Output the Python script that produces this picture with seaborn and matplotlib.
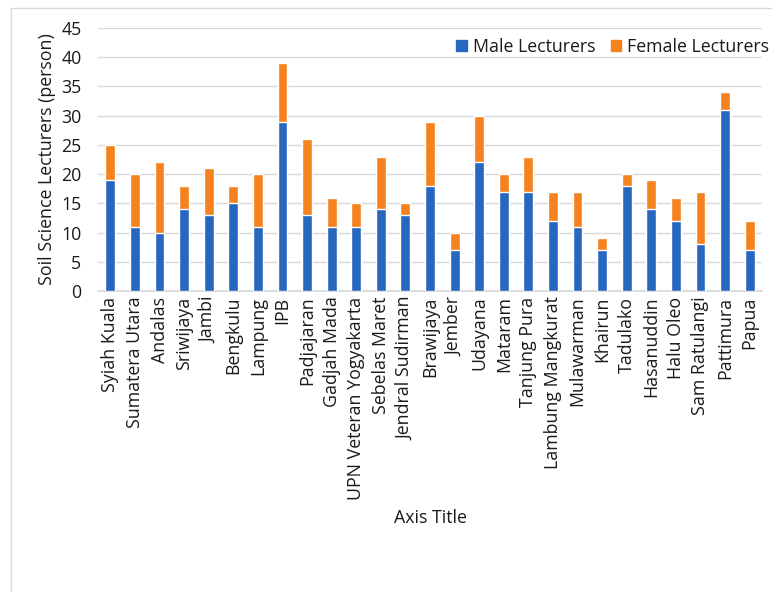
import pandas as pd
import matplotlib.pyplot as plt
import seaborn as sns
from matplotlib.lines import Line2D
from matplotlib.patches import Patch

universities = [
    "Syiah Kuala", "Sumatera Utara", "Andalas", "Sriwijaya", "Jambi", "Bengkulu",
    "Lampung", "IPB", "Padjajaran", "Gadjah Mada", "UPN Veteran Yogyakarta",
    "Sebelas Maret", "Jendral Sudirman", "Brawijaya", "Jember", "Udayana",
    "Mataram", "Tanjung Pura", "Lambung Mangkurat", "Mulawarman", "Khairun",
    "Tadulako", "Hasanuddin", "Halu Oleo", "Sam Ratulangi", "Pattimura", "Papua",
]
male = [19, 11, 10, 14, 13, 15, 11, 29, 13, 11, 11, 14, 13, 18, 7, 22,
        17, 17, 12, 11, 7, 18, 14, 12, 8, 31, 7]
female = [6, 9, 12, 4, 8, 3, 9, 10, 13, 5, 4, 9, 2, 11, 3, 8,
          3, 6, 5, 6, 2, 2, 5, 4, 9, 3, 5]

df = pd.DataFrame({"university": universities, "male": male, "female": female})
df["total"] = df["male"] + df["female"]

BLUE = "#2767BF"
ORANGE = "#F5821F"
GRID = "#D9D9D9"
TEXT = "#1a1a1a"
FS = 12.8

sns.set_theme(style="white")
plt.rcParams["font.family"] = ["Open Sans", "DejaVu Sans"]

fig = plt.figure(figsize=(7.72, 5.92), dpi=100)
ax = fig.add_axes([0.127, 0.5084, 0.860, 0.4443])

# stacked: total in orange, male drawn over it
sns.barplot(data=df, x="university", y="total", color=ORANGE, width=0.4,
            saturation=1, ax=ax, zorder=2)
sns.barplot(data=df, x="university", y="male", color=BLUE, width=0.4,
            saturation=1, ax=ax, zorder=3)

ax.set_xlim(-0.5, len(universities) - 0.5)
ax.set_ylim(0, 45)
ax.set_yticks(range(0, 46, 5))
ax.yaxis.grid(True, color=GRID, linewidth=1, zorder=0)
ax.set_axisbelow(True)
for side in ["top", "right", "left"]:
    ax.spines[side].set_visible(False)
ax.spines["bottom"].set_color(GRID)
ax.tick_params(axis="both", length=0, labelsize=FS, colors=TEXT)
ax.tick_params(axis="x", pad=4)
ax.tick_params(axis="y", pad=12)
plt.setp(ax.get_xticklabels(), rotation=90)

ax.set_xlabel("Axis Title", fontsize=FS, color=TEXT, labelpad=7)
ax.set_ylabel("Soil Science Lecturers (person)", fontsize=FS, color=TEXT, labelpad=4)

handles = [Patch(color=BLUE, label="Male Lecturers"),
           Patch(color=ORANGE, label="Female Lecturers")]
ax.legend(handles=handles, loc="upper right", bbox_to_anchor=(1.022, 0.99), ncol=2,
          frameon=False, fontsize=FS, handlelength=0.6, handleheight=0.6,
          handletextpad=0.35, columnspacing=0.85, borderaxespad=0, labelcolor=TEXT)

# chart frame edges visible in the crop
fig.add_artist(Line2D([11 / 772, 11 / 772], [0, 1 - 8 / 592], color=GRID, linewidth=1))
fig.add_artist(Line2D([11 / 772, 1], [1 - 8 / 592, 1 - 8 / 592], color=GRID, linewidth=1))

fig.savefig("out.png", dpi=100)
